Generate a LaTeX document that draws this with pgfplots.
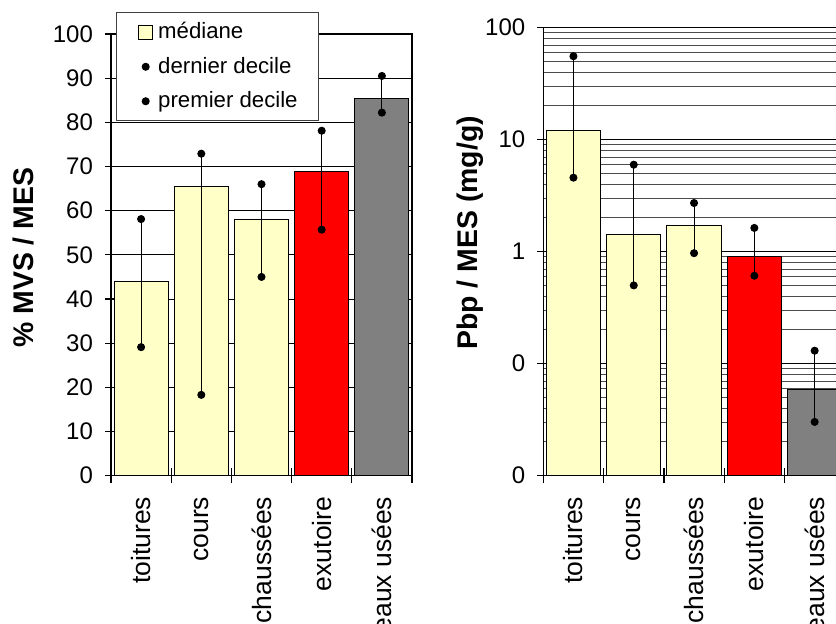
\documentclass[border=0pt]{standalone}
\usepackage{pgfplots}
\pgfplotsset{compat=1.18}
\usepackage{fontspec}
\setmainfont{Liberation Sans}
\definecolor{lyellow}{HTML}{FFFFC8}
\definecolor{bred}{HTML}{FF0000}
\definecolor{bgray}{HTML}{808080}
\pgfplotsset{
  common/.style={
    scale only axis,
    xmin=-0.5, xmax=4.5,
    axis line style={black, line width=0.6pt},
    tick align=center,
    tick pos=left,
    tick style={black, line width=0.6pt},
    major tick length=6pt,
    xtick={0,1,2,3,4},
    xticklabels={toitures,cours,chaussées,exutoire,eaux usées},
    minor xtick={-0.5,0.5,1.5,2.5,3.5,4.5},
    major x tick style={draw=none},
    minor tick length=7.5pt,
    ymajorgrids,
    major grid style={black, line width=0.5pt},
    /pgf/number format/assume math mode=true,
    yticklabel style={font=\fontsize{12}{14}\selectfont, xshift=-2.5pt},
    xticklabel style={font=\fontsize{13.25}{15}\selectfont, rotate=90, anchor=east, xshift=-4pt},
    ylabel style={font=\bfseries\fontsize{14.2}{16}\selectfont, anchor=center},
  },
  whisk/.style={black, line width=0.5pt, mark=*, mark size=1.75pt,
    mark options={fill=black, draw=black, solid}, unbounded coords=jump},
}
\begin{document}
\begin{tikzpicture}
\path[use as bounding box, clip] (0pt,0pt) rectangle (418pt,312pt);
% ---------------- left panel
\begin{axis}[common,
  at={(55.5pt,74.15pt)}, anchor=south west,
  width=150.5pt, height=220.85pt,
  ymin=0, ymax=100, ytick={0,10,...,100},
  ylabel={\% MVS / MES},
  ylabel style={at={(axis description cs:-0.291,0.4935)}},
  legend style={at={(axis description cs:0.0156,1.0498)}, anchor=north west,
    draw=black!75, fill=white, line width=0.5pt,
    font=\fontsize{11.1}{13}\selectfont,
    inner xsep=9pt, inner ysep=3.5pt, row sep=4.7pt, column sep=1pt,
    nodes={inner sep=1.5pt}},
  legend cell align=left,
]
\addplot[ybar, bar width=0.9, bar shift=0pt, fill=lyellow, draw=black, line width=0.5pt,
  legend image code/.code={\path (-2pt,0pt); \draw[fill=lyellow, draw=black, line width=0.5pt] (0pt,-3.5pt) rectangle (7pt,3.5pt);}]
  coordinates {(0,44.0) (1,65.4) (2,57.9)};
\addlegendentry{médiane}
\addplot[ybar, bar width=0.9, bar shift=0pt, fill=bred, draw=black, line width=0.5pt, forget plot]
  coordinates {(3,68.9)};
\addplot[ybar, bar width=0.9, bar shift=0pt, fill=bgray, draw=black, line width=0.5pt, forget plot]
  coordinates {(4,85.5)};
\addplot[whisk, legend image code/.code={\path (-2pt,0pt) (7pt,0pt); \fill[black] (3.5pt,0pt) circle (1.75pt);}]
  coordinates {(0,29.1) (0,58.1) (0,nan)
               (1,18.3) (1,72.9) (1,nan)
               (2,45.0) (2,66.0) (2,nan)
               (3,55.7) (3,78.1) (3,nan)
               (4,82.2) (4,90.5)};
\addlegendentry{dernier decile}
\addlegendimage{legend image code/.code={\path (-2pt,0pt) (7pt,0pt); \fill[black] (3.5pt,0pt) circle (1.75pt);}}
\addlegendentry{premier decile}
\end{axis}
% ---------------- right panel
\begin{axis}[common,
  at={(271.65pt,74.15pt)}, anchor=south west,
  width=150.75pt, height=224pt,
  ymode=log, ymin=0.01, ymax=100, log origin=infty,
  ytick={0.01,0.1,1,10,100},
  yticklabels={0,0,1,10,100},
  minor ytick={0.02,0.03,0.04,0.05,0.06,0.07,0.08,0.09,
               0.2,0.3,0.4,0.5,0.6,0.7,0.8,0.9,
               2,3,4,5,6,7,8,9,
               20,30,40,50,60,70,80,90},
  yminorgrids,
  minor grid style={black!70, line width=0.5pt},
  minor y tick style={draw=none},
  ylabel={Pbp / MES (mg/g)},
  ylabel style={at={(axis description cs:-0.243,0.542)}},
]
\addplot[ybar, bar width=0.9, bar shift=0pt, fill=lyellow, draw=black, line width=0.5pt]
  coordinates {(0,12.0) (1,1.41) (2,1.73)};
\addplot[ybar, bar width=0.9, bar shift=0pt, fill=bred, draw=black, line width=0.5pt]
  coordinates {(3,0.90)};
\addplot[ybar, bar width=0.9, bar shift=0pt, fill=bgray, draw=black, line width=0.5pt]
  coordinates {(4,0.0594)};
\addplot[whisk]
  coordinates {(0,4.58) (0,55.6) (0,nan)
               (1,0.50) (1,5.98) (1,nan)
               (2,0.97) (2,2.72) (2,nan)
               (3,0.61) (3,1.63) (3,nan)
               (4,0.0302) (4,0.1306)};
\end{axis}
\end{tikzpicture}
\end{document}
